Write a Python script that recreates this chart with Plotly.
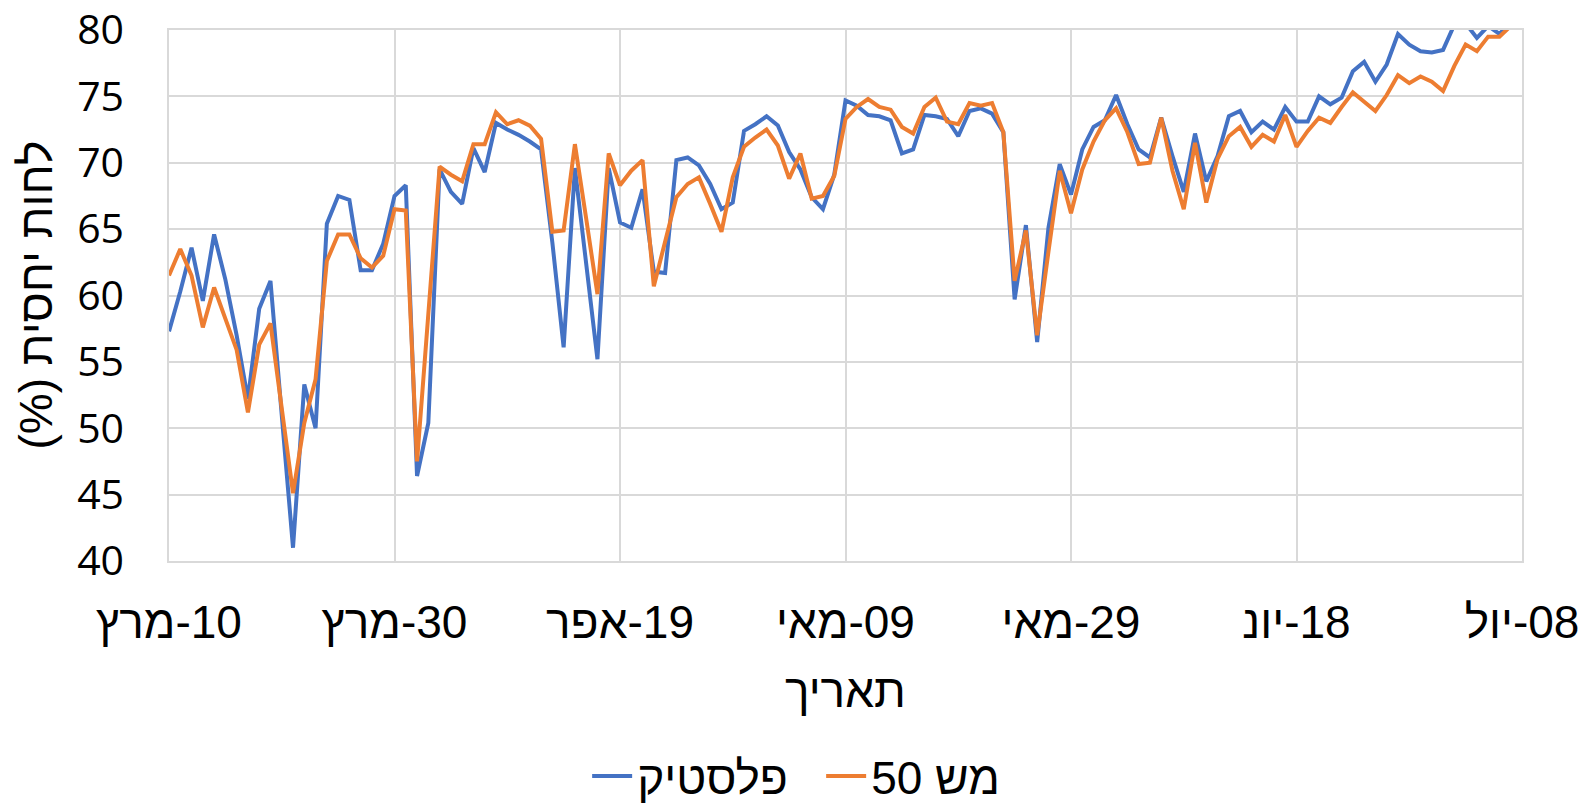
import datetime as dt
import plotly.graph_objects as go

# ---- data ----
start_date = dt.date(2020, 3, 10)

plastic = [57.3, 60.3, 63.6, 59.6, 64.6, 61.2, 57.0, 52.2, 59.0, 61.1,
           51.0, 41.0, 53.3, 50.0, 65.4, 67.5, 67.2, 61.9, 61.9, 63.9,
           67.5, 68.3, 46.4, 50.4, 69.5, 67.8, 66.9, 71.1, 69.3, 73.0,
           72.5, 72.1, 71.6, 71.0, 64.0, 56.1, 69.6, 62.5, 55.2, 69.6,
           65.5, 65.1, 68.0, 61.8, 61.7, 70.2, 70.4, 69.8, 68.4, 66.5,
           67.0, 72.4, 72.9, 73.5, 72.8, 70.8, 69.5, 67.4, 66.5, 69.1,
           74.7, 74.3, 73.6, 73.5, 73.2, 70.7, 71.0, 73.6, 73.5, 73.3,
           72.0, 73.9, 74.1, 73.7, 72.3, 59.7, 65.3, 56.5, 65.1, 69.9,
           67.6, 71.0, 72.7, 73.2, 75.1, 72.9, 71.0, 70.4, 73.4, 70.5,
           67.8, 72.2, 68.6, 70.5, 73.5, 73.9, 72.3, 73.1, 72.5, 74.2,
           73.1, 73.1, 75.0, 74.4, 74.9, 76.9, 77.6, 76.1, 77.4, 79.7,
           78.9, 78.4, 78.3, 78.5, 80.4, 80.5, 79.4, 80.3, 79.7, 80.6,
           81.0]

mesh50 = [61.5, 63.5, 61.5, 57.6, 60.6, 58.3, 55.9, 51.2, 56.3, 57.9,
          51.5, 45.1, 50.4, 53.7, 62.6, 64.6, 64.6, 62.8, 62.1, 63.0,
          66.5, 66.4, 47.5, 58.5, 69.7, 69.1, 68.6, 71.4, 71.4, 73.8,
          72.9, 73.2, 72.8, 71.8, 64.8, 64.9, 71.4, 65.8, 60.1, 70.7,
          68.3, 69.4, 70.2, 60.7, 64.1, 67.4, 68.4, 68.9, 66.9, 64.8,
          68.9, 71.2, 71.9, 72.5, 71.3, 68.8, 70.7, 67.3, 67.5, 69.0,
          73.3, 74.2, 74.8, 74.2, 74.0, 72.7, 72.2, 74.2, 74.9, 73.1,
          72.9, 74.5, 74.3, 74.5, 72.3, 61.1, 64.9, 57.0, 63.3, 69.4,
          66.2, 69.5, 71.6, 73.2, 74.1, 72.3, 69.9, 70.0, 73.4, 69.4,
          66.5, 71.5, 67.0, 70.3, 72.0, 72.7, 71.2, 72.1, 71.6, 73.6,
          71.2, 72.4, 73.4, 73.0, 74.2, 75.3, 74.6, 73.9, 75.1, 76.6,
          76.0, 76.5, 76.1, 75.4, 77.3, 78.9, 78.4, 79.5, 79.5, 80.3,
          80.8]

dates = [start_date + dt.timedelta(days=i) for i in range(len(plastic))]

tick_dates = ["2020-03-10", "2020-03-30", "2020-04-19", "2020-05-09",
              "2020-05-29", "2020-06-18", "2020-07-08"]
tick_days = ["10", "30", "19", "09", "29", "18", "08"]
tick_months = ["מרץ", "מרץ", "אפר", "מאי", "מאי", "יונ", "יול"]
tick_text = [f"{m}\u200E-{d}" for d, m in zip(tick_days, tick_months)]

y_ticks = [40, 45, 50, 55, 60, 65, 70, 75, 80]

series_names = ["פלסטיק", "50 מש"]
colors = ["#4472C4", "#ED7D31"]

# ---- figure ----
fig = go.Figure()
for name, vals, col in zip(series_names, [plastic, mesh50], colors):
    fig.add_trace(go.Scatter(x=dates, y=vals, mode="lines", name=name,
                             line=dict(color=col, width=4)))

grid = "#D9D9D9"
hebrew_font = "Liberation Sans, Arial, DejaVu Sans, sans-serif"

fig.update_layout(
    width=1586, height=804, autosize=False,
    paper_bgcolor="white", plot_bgcolor="white",
    margin=dict(l=169, r=64, t=30, b=243, autoexpand=False),
    showlegend=True,
    legend=dict(orientation="h", xref="paper", yref="paper",
                x=0.482, xanchor="center", y=-0.405, yanchor="middle",
                font=dict(family=hebrew_font, size=46, color="black"),
                itemwidth=40, traceorder="normal",
                entrywidth=179, entrywidthmode="pixels"),
    xaxis=dict(type="date", range=[tick_dates[0], tick_dates[-1]],
               tickmode="array", tickvals=tick_dates, ticktext=tick_text,
               showgrid=True, gridcolor=grid, gridwidth=1.5,
               showline=True, linecolor=grid, linewidth=1.5, mirror=True,
               ticks="", ticklabelstandoff=20, automargin=False,
               tickfont=dict(family=hebrew_font, size=46, color="black")),
    yaxis=dict(range=[40, 80], tickmode="array", tickvals=y_ticks,
               showgrid=True, gridcolor=grid, gridwidth=1.5,
               showline=True, linecolor=grid, linewidth=1.5, mirror=True,
               zeroline=False, ticks="", ticklabelstandoff=35,
               automargin=False,
               tickfont=dict(family="Open Sans, Liberation Sans, sans-serif",
                             size=41, color="black")),
    annotations=[
        dict(text="תאריך", xref="paper", yref="paper", x=0.5, y=-0.245,
             xanchor="center", yanchor="middle", showarrow=False,
             font=dict(family=hebrew_font, size=46, color="black")),
        dict(text="לחות יחסית (%)\u200F", xref="paper", yref="paper",
             x=-0.099, y=0.5, xanchor="center", yanchor="middle",
             textangle=-90, showarrow=False,
             font=dict(family=hebrew_font, size=46, color="black")),
    ],
)

fig.write_html("out.html",
               config={"displayModeBar": False},
               post_script="document.body.style.margin='0';"
                           "document.body.style.overflow='hidden';")
